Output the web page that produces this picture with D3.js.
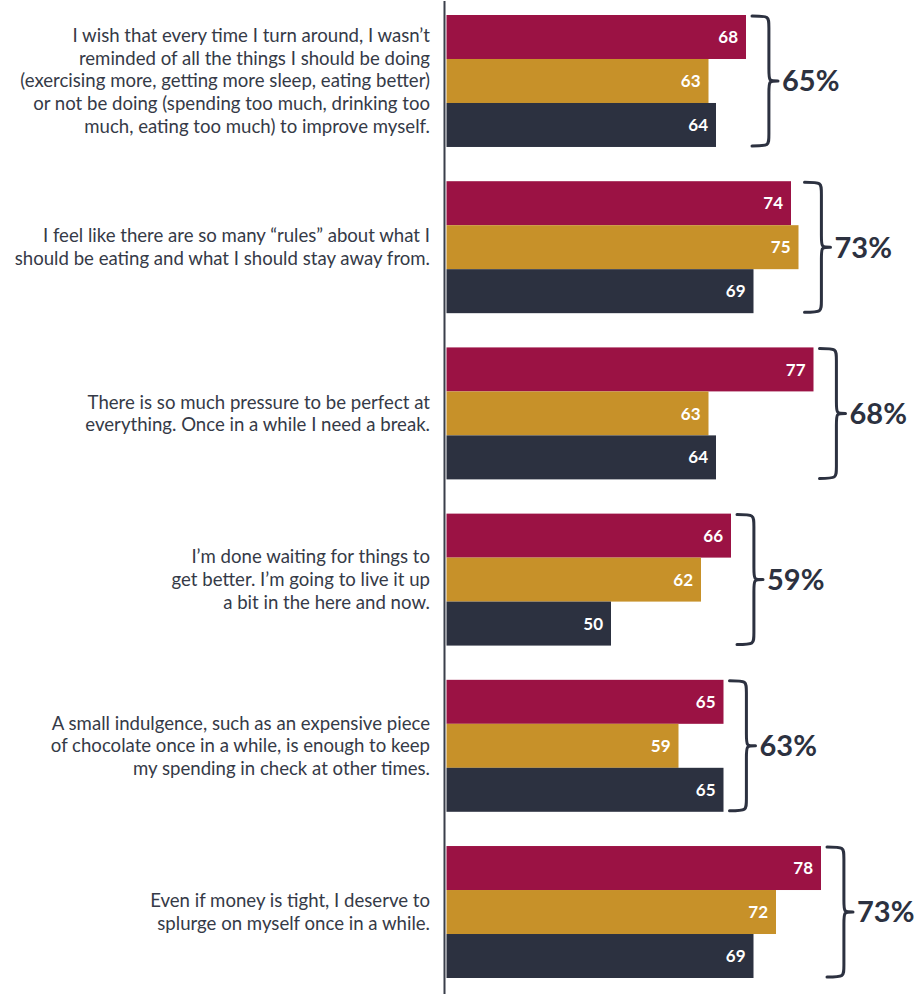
<!DOCTYPE html>
<html>
<head>
<meta charset="utf-8">
<script src="https://cdn.jsdelivr.net/npm/d3@7"></script>
<style>
  html, body { margin: 0; padding: 0; background: #fff; }
  svg { display: block; }
</style>
</head>
<body>
<div id="chart"></div>
<script>
// Statements, one entry per line of the wrapped label
const statements = [
  ["I wish that every time I turn around, I wasn\u2019t",
   "reminded of all the things I should be doing",
   "(exercising more, getting more sleep, eating better)",
   "or not be doing (spending too much, drinking too",
   "much, eating too much) to improve myself."],
  ["I feel like there are so many \u201crules\u201d about what I",
   "should be eating and what I should stay away from."],
  ["There is so much pressure to be perfect at",
   "everything. Once in a while I need a break."],
  ["I\u2019m done waiting for things to",
   "get better. I\u2019m going to live it up",
   "a bit in the here and now."],
  ["A small indulgence, such as an expensive piece",
   "of chocolate once in a while, is enough to keep",
   "my spending in check at other times."],
  ["Even if money is tight, I deserve to",
   "splurge on myself once in a while."]
];

// Agreement (%) for the three groups, plus the overall figure
const seriesRed   = [68, 74, 77, 66, 65, 78];
const seriesGold  = [63, 75, 63, 62, 59, 72];
const seriesNavy  = [64, 69, 64, 50, 65, 69];
const totals      = [65, 73, 68, 59, 63, 73];

const seriesNames  = ["red", "gold", "navy"];
const seriesColors = ["#9b1244", "#c79129", "#2c3140"];

const W = 914, H = 994;
const svg = d3.select("#chart").append("svg")
  .attr("width", W).attr("height", H);

const rows = statements.map((s, i) => ({
  i, lines: s,
  values: [seriesRed[i], seriesGold[i], seriesNavy[i]],
  total: totals[i]
}));

// Bars start at a truncated baseline
const x = d3.scaleLinear().domain([28, 100]).range([446, 986]);

const y = d3.scaleBand()
  .domain(rows.map(d => d.i))
  .range([15, 978])
  .paddingInner(0.206)
  .paddingOuter(0);

const ySub = d3.scaleBand()
  .domain(seriesNames)
  .range([0, y.bandwidth()]);

const ink = "#2c3140";
const labelInk = "#353a47";

// Vertical axis line
svg.append("line")
  .attr("x1", 444.5).attr("x2", 444.5)
  .attr("y1", 1).attr("y2", H)
  .attr("stroke", "#3a3f4b").attr("stroke-width", 2);

const g = svg.selectAll("g.row").data(rows).join("g")
  .attr("class", "row")
  .attr("transform", d => `translate(0,${y(d.i)})`);

// Bars
g.selectAll("rect").data(d => d.values.map((v, k) => ({v, k}))).join("rect")
  .attr("x", x(28) + 0.5)
  .attr("y", d => ySub(seriesNames[d.k]))
  .attr("width", d => x(d.v) - x(28) - 0.5)
  .attr("height", ySub.bandwidth())
  .attr("fill", d => seriesColors[d.k]);

// Values inside bar ends
g.selectAll("text.val").data(d => d.values.map((v, k) => ({v, k}))).join("text")
  .attr("class", "val")
  .attr("x", d => x(d.v) - 8)
  .attr("y", d => ySub(seriesNames[d.k]) + ySub.bandwidth() / 2)
  .attr("dy", "0.36em")
  .attr("text-anchor", "end")
  .attr("fill", "#fff")
  .attr("font-family", "Lato, sans-serif")
  .attr("font-weight", 700)
  .attr("font-size", 17)
  .text(d => d.v);

// Statement text, right-aligned against the axis
g.append("text")
  .attr("text-anchor", "end")
  .attr("fill", labelInk)
  .attr("font-family", "Lato, sans-serif")
  .attr("font-size", 18.6)
  .each(function(d) {
    const lh = 22.7;
    const n = d.lines.length;
    const mid = y.bandwidth() / 2;
    d3.select(this).selectAll("tspan").data(d.lines).join("tspan")
      .attr("x", 430)
      .attr("y", (t, j) => mid + (j - (n - 1) / 2) * lh)
      .attr("dy", "0.35em")
      .text(t => t);
  });

// Curly brace spanning the three bars
function bracePath(x0, y0, y1, w) {
  const xs = x0 + w * 0.65, tip = x0 + w, ym = (y0 + y1) / 2, r = 12;
  return `M${x0},${y0} C${xs},${y0} ${xs},${y0} ${xs},${y0 + r}` +
         ` L${xs},${ym - r} C${xs},${ym} ${xs},${ym} ${tip},${ym}` +
         ` C${xs},${ym} ${xs},${ym} ${xs},${ym + r}` +
         ` L${xs},${y1 - r} C${xs},${y1} ${xs},${y1} ${x0},${y1}`;
}

g.append("path")
  .attr("d", d => bracePath(x(d3.max(d.values)) + 6, 1, y.bandwidth() - 1, 26))
  .attr("fill", "none")
  .attr("stroke", ink)
  .attr("stroke-width", 3)
  .attr("stroke-linecap", "round")
  .attr("stroke-linejoin", "round");

// Overall percentage
g.append("text")
  .attr("x", d => x(d3.max(d.values)) + 36)
  .attr("y", y.bandwidth() / 2)
  .attr("dy", "0.36em")
  .attr("fill", ink)
  .attr("font-family", "Lato, sans-serif")
  .attr("font-weight", 700)
  .attr("font-size", 29)
  .text(d => d.total + "%");
</script>
</body>
</html>
